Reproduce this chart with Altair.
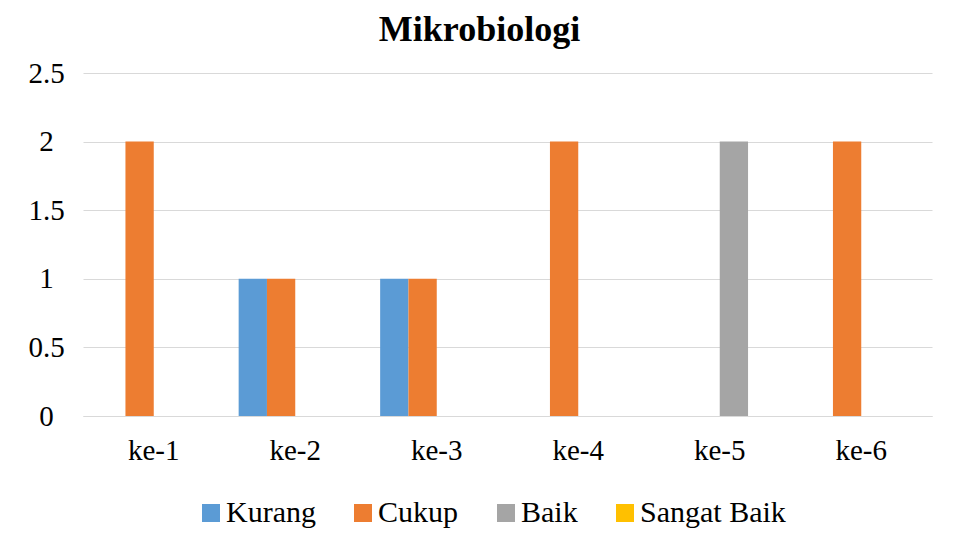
import altair as alt
import pandas as pd

categories = ["ke-1", "ke-2", "ke-3", "ke-4", "ke-5", "ke-6"]
series = ["Kurang", "Cukup", "Baik", "Sangat Baik"]
kurang = [0, 1, 1, 0, 0, 0]
cukup = [2, 1, 1, 2, 0, 2]
baik = [0, 0, 0, 0, 2, 0]
sangat_baik = [0, 0, 0, 0, 0, 0]
colors = ["#5B9BD5", "#ED7D31", "#A5A5A5", "#FFC000"]
y_ticks = [0, 0.5, 1, 1.5, 2, 2.5]

rows = []
for name, vals in zip(series, [kurang, cukup, baik, sangat_baik]):
    for c, v in zip(categories, vals):
        rows.append({"kategori": c, "seri": name, "nilai": v})
df = pd.DataFrame(rows)

FONT = "Liberation Serif"

chart = alt.Chart(df).mark_bar().encode(
    x=alt.X("kategori:N", sort=categories, title=None,
            scale=alt.Scale(paddingInner=0.2, paddingOuter=0.1),
            axis=alt.Axis(labelAngle=0, ticks=False, domainColor="#D9D9D9",
                          domainWidth=1, labelFontSize=29, labelFont=FONT,
                          labelColor="#000000", labelPadding=20, grid=False)),
    xOffset=alt.XOffset("seri:N", sort=series,
                        scale=alt.Scale(paddingInner=0, paddingOuter=0)),
    y=alt.Y("nilai:Q", title=None,
            scale=alt.Scale(domain=[0, 2.5], nice=False),
            axis=alt.Axis(values=y_ticks, format="~g", ticks=False, domain=False,
                          gridColor="#D9D9D9", gridWidth=1,
                          labelFontSize=29, labelFont=FONT, labelColor="#000000",
                          labelAlign="center", labelPadding=37,
                          labelBaseline="middle")),
    color=alt.Color("seri:N", sort=series,
                    scale=alt.Scale(domain=series, range=colors),
                    legend=alt.Legend(title=None, orient="none", direction="horizontal",
                                      legendX=113, legendY=425,
                                      symbolType="square", symbolSize=324,
                                      symbolStrokeWidth=0, labelFontSize=30,
                                      labelFont=FONT, labelColor="#000000",
                                      labelOffset=0, columnPadding=32)),
).properties(
    width=849,
    height=343,
    padding={"left": 75, "top": 65, "right": 17, "bottom": 132},
    autosize=alt.AutoSizeParams(type="none"),
    title=alt.TitleParams("Mikrobiologi", font=FONT, fontSize=36, fontWeight="bold",
                          color="#000000", anchor="middle", frame="group",
                          offset=10, dx=-28),
).configure_view(stroke=None)

chart.save("out.html", embed_options={"renderer": "svg", "actions": False})
